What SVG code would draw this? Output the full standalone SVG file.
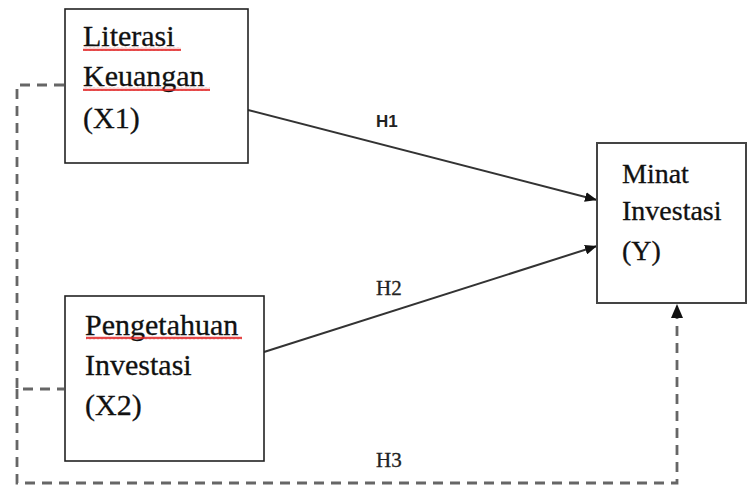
<svg xmlns="http://www.w3.org/2000/svg" width="748" height="488" viewBox="0 0 748 488">
<defs>
<style>
.box{fill:#fff;stroke:#222;stroke-width:1.6}
.t{font-family:"Liberation Serif","Times New Roman",serif;fill:#111;stroke:#111;stroke-width:0.3}
.dash{fill:none;stroke:#666;stroke-width:2.8;stroke-dasharray:10 7}
.sol{fill:none;stroke:#333;stroke-width:2}
.lab{font-family:"Liberation Serif","Times New Roman",serif;font-size:21px;fill:#222;stroke:#222;stroke-width:0.3}
</style>
<marker id="ah" viewBox="0 0 12 10" refX="12" refY="5" markerWidth="12" markerHeight="10" markerUnits="userSpaceOnUse" orient="auto">
<path d="M0,0 L12,5 L0,10 z" fill="#111"/>
</marker>
<pattern id="sq" width="4" height="4" patternUnits="userSpaceOnUse">
<path d="M0 3.2 L1 0.8 L2 3.2 L3 0.8 L4 3.2" fill="none" stroke="#e02020" stroke-width="1"/>
</pattern>
</defs>
<rect width="748" height="488" fill="#fff"/>
<g id="connectors">
<path class="dash" d="M64,85 H17 V389 H64"/>
<path class="dash" d="M17,389 V483 H677 V318"/>
<path d="M677,304 L683,318 L671,318 z" fill="#111"/>
<line class="sol" x1="248" y1="110" x2="597" y2="200" marker-end="url(#ah)"/>
<line class="sol" x1="264" y1="352" x2="597" y2="246" marker-end="url(#ah)"/>
<text x="376" y="127" font-family="Liberation Sans,Arial,sans-serif" font-weight="bold" font-size="17" fill="#222">H1</text>
<text class="lab" x="376" y="295">H2</text>
<text class="lab" x="376" y="467">H3</text>
</g>
<g id="node-x1">
<rect class="box" x="65" y="9" width="183" height="154"/>
<text class="t" font-size="30" x="83" y="46">Literasi</text>
<text class="t" font-size="30" x="83" y="86">Keuangan</text>
<text class="t" font-size="30" x="83" y="128">(X1)</text>
<rect x="83" y="47" width="98" height="4" fill="url(#sq)"/>
<rect x="83" y="87" width="127" height="4" fill="url(#sq)"/>
</g>
<g id="node-x2">
<rect class="box" x="65" y="296" width="199" height="165"/>
<text class="t" font-size="30" x="85" y="335">Pengetahuan</text>
<text class="t" font-size="30" x="85" y="375">Investasi</text>
<text class="t" font-size="30" x="85" y="415">(X2)</text>
<rect x="86" y="336" width="156" height="4" fill="url(#sq)"/>
</g>
<g id="node-y">
<rect class="box" x="597" y="143" width="149" height="160" style="stroke:#444;stroke-width:2"/>
<text class="t" font-size="28" x="622" y="183">Minat</text>
<text class="t" font-size="28" x="622" y="220">Investasi</text>
<text class="t" font-size="28" x="622" y="260">(Y)</text>
</g>
</svg>
